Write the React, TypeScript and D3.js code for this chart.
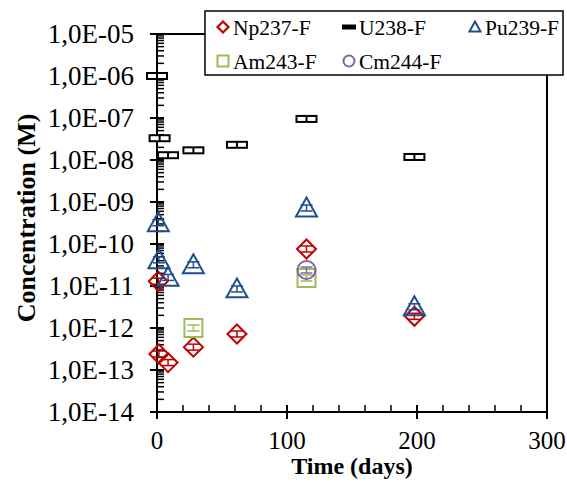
import React from "react";
import * as d3 from "d3";

// sampling days and measured concentrations (M)
const npDays = [1, 1.5, 8.5, 28, 61.5, 115, 198];
const npValues = [1.3e-11, 2.4e-13, 1.5e-13, 3.5e-13, 7.2e-13, 7.6e-11, 1.9e-12];

const uDays = [0, 2, 8.5, 28, 61.5, 115, 198];
const uValues = [1e-6, 3.3e-8, 1.3e-8, 1.7e-8, 2.3e-8, 9.5e-8, 1.18e-8];

const puDays = [1, 1.5, 8.5, 28, 61.5, 115, 198];
const puValues = [3.2e-10, 4.2e-11, 1.6e-11, 3.2e-11, 8.5e-12, 7.2e-10, 3.2e-12];

const amDays = [28, 115];
const amValues = [1.0e-12, 1.55e-11];

const cmDays = [115];
const cmValues = [2.4e-11];

const xTicks = [0, 100, 200, 300];
const yExponents = [-5, -6, -7, -8, -9, -10, -11, -12, -13, -14];

const series = [
  { name: "Np237-F", shape: "diamond", color: "#C00000", days: npDays, values: npValues },
  { name: "U238-F", shape: "dash", color: "#000000", days: uDays, values: uValues },
  { name: "Pu239-F", shape: "triangle", color: "#1F4E8C", days: puDays, values: puValues },
  { name: "Am243-F", shape: "square", color: "#9BBB59", days: amDays, values: amValues },
  { name: "Cm244-F", shape: "circle", color: "#8064A2", days: cmDays, values: cmValues },
];

const font = "'Liberation Serif', 'Times New Roman', serif";

function Marker({ shape, color, x, y, size, legend }: any) {
  const r = size / 2;
  if (shape === "diamond") {
    return <path d={`M${x},${y - r}L${x + r},${y}L${x},${y + r}L${x - r},${y}Z`} fill="none" stroke={color} strokeWidth={legend ? 2.2 : 2} />;
  }
  if (shape === "triangle") {
    return <path d={`M${x},${y - r}L${x + r},${y + r * 0.8}L${x - r},${y + r * 0.8}Z`} fill="none" stroke={color} strokeWidth={2} />;
  }
  if (shape === "square") {
    return <rect x={x - r} y={y - r} width={size} height={size} fill="none" stroke={color} strokeWidth={2} />;
  }
  if (shape === "circle") {
    return <circle cx={x} cy={y} r={r} fill="none" stroke={color} strokeWidth={2} />;
  }
  if (legend) {
    return <rect x={x - r} y={y - 2.5} width={size} height={5} fill={color} />;
  }
  return (
    <g>
      <rect x={x - r} y={y - 3} width={size} height={6} fill="#fff" stroke={color} strokeWidth={2} />
      <line x1={x} x2={x} y1={y - 3} y2={y + 3} stroke={color} strokeWidth={2} />
    </g>
  );
}

function ErrBar({ color, x, y }: any) {
  return (
    <g stroke={color} strokeWidth={1.5}>
      <line x1={x} x2={x} y1={y - 3} y2={y + 3} />
      <line x1={x - 6} x2={x + 6} y1={y - 3} y2={y - 3} />
      <line x1={x - 6} x2={x + 6} y1={y + 3} y2={y + 3} />
    </g>
  );
}

export default function App() {
  const w = 567, h = 483;
  const left = 157, right = 547, top = 34, bottom = 412;

  const x = d3.scaleLinear().domain([0, 300]).range([left, right]);
  const y = d3.scaleLog().domain([1e-14, 1e-5]).range([bottom, top]);

  const minorX = d3.range(0, 301, 20).filter(d => d % 100 !== 0);
  const minorY: number[] = [];
  for (let e = -14; e < -5; e++) {
    for (let m = 2; m <= 9; m++) minorY.push(m * Math.pow(10, e));
  }

  const fmt = (e: number) => `1,0E-${String(-e).padStart(2, "0")}`;

  return (
    <svg width={w} height={h} style={{ position: "absolute", left: 0, top: 0, fontFamily: font }}>
      <rect width={w} height={h} fill="#fff" />
      {/* frame */}
      <line x1={left} x2={right} y1={top} y2={top} stroke="#000" strokeWidth={2} />
      <line x1={right} x2={right} y1={top} y2={bottom} stroke="#000" strokeWidth={2} />

      {/* y axis */}
      {minorY.map((d, i) => (
        <line key={i} x1={left} x2={left + 7} y1={y(d)} y2={y(d)} stroke="#000" strokeWidth={1.5} />
      ))}
      {yExponents.map(e => (
        <g key={e}>
          <line x1={left - 7} x2={left + 7} y1={y(Math.pow(10, e))} y2={y(Math.pow(10, e))} stroke="#000" strokeWidth={2} />
          <text x={134} y={y(Math.pow(10, e))} dy="0.34em" textAnchor="end" fontSize={27}>{fmt(e)}</text>
        </g>
      ))}
      <line x1={left} x2={left} y1={top} y2={bottom} stroke="#000" strokeWidth={2} />

      {/* x axis */}
      {minorX.map(d => (
        <line key={d} x1={x(d)} x2={x(d)} y1={bottom - 7} y2={bottom} stroke="#000" strokeWidth={1.5} />
      ))}
      {xTicks.map(d => (
        <g key={d}>
          <line x1={x(d)} x2={x(d)} y1={bottom - 7} y2={bottom + 7} stroke="#000" strokeWidth={2} />
          <text x={x(d)} y={449} textAnchor="middle" fontSize={25}>{d}</text>
        </g>
      ))}
      <line x1={left} x2={right} y1={bottom} y2={bottom} stroke="#000" strokeWidth={2} />

      {/* titles */}
      <text x={352} y={474} textAnchor="middle" fontSize={24} fontWeight="bold">Time (days)</text>
      <text transform={`translate(35,218) rotate(-90)`} textAnchor="middle" fontSize={26} fontWeight="bold">Concentration (M)</text>

      {/* data */}
      {series.map(s => (
        <g key={s.name}>
          {s.days.map((d, i) => {
            const cx = x(d), cy = y(s.values[i]);
            const size = s.shape === "dash" ? 20 : s.shape === "triangle" ? 21 : s.shape === "diamond" ? 19 : 18;
            return (
              <g key={i}>
                <Marker shape={s.shape} color={s.color} x={cx} y={cy} size={size} />
                {s.shape !== "dash" && <ErrBar color={s.color} x={cx} y={cy} />}
              </g>
            );
          })}
        </g>
      ))}

      {/* legend */}
      <rect x={205} y={11} width={358} height={64} fill="#fff" stroke="#000" strokeWidth={1.5} />
      {series.map((s, i) => {
        const col = i % 3, row = Math.floor(i / 3);
        const mx = 223 + col * 126, my = 27 + row * 34;
        return (
          <g key={s.name}>
            <Marker shape={s.shape} color={s.color} x={mx} y={my} size={s.shape === "dash" ? 14 : 11} legend />
            <text x={mx + 10} y={my} dy="0.35em" fontSize={21.5}>{s.name}</text>
          </g>
        );
      })}
    </svg>
  );
}
